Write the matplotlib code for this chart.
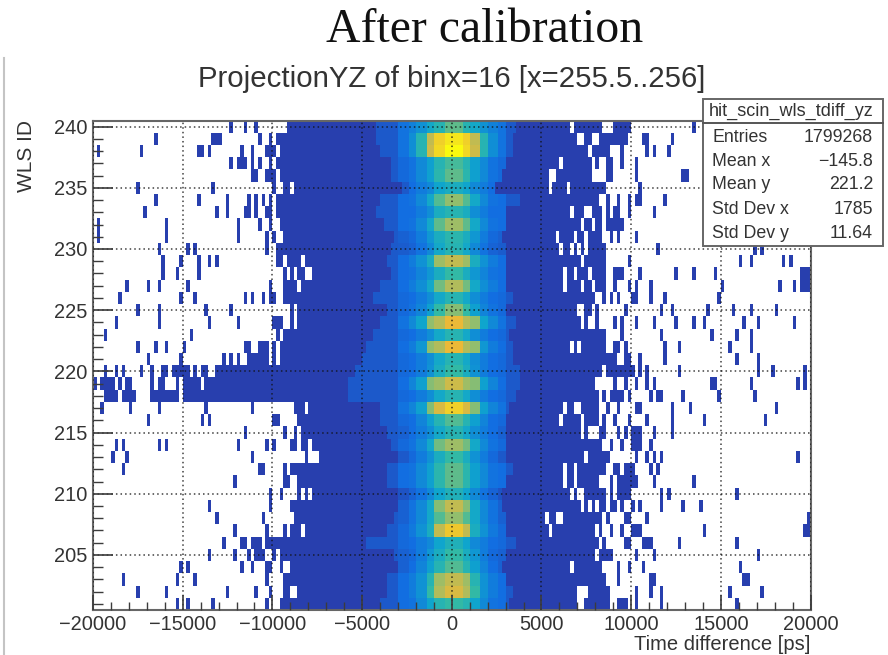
"""ProjectionYZ histogram of WLS ID vs time difference, after calibration."""

import matplotlib

matplotlib.use("Agg")
import matplotlib.pyplot as plt
import numpy as np
from matplotlib.colors import LinearSegmentedColormap
from matplotlib.lines import Line2D
from matplotlib.patches import Rectangle

# wls ids, listed from the top row of the picture downwards
WLS_IDS = list(range(240, 200, -1))
X_TICKS = [-20000, -15000, -10000, -5000, 0, 5000, 10000, 15000, 20000]
Y_TICKS = [205, 210, 215, 220, 225, 230, 235, 240]

# where the solid navy block starts and stops in each row [ps]
DARK_LEFT = [
    -9200, -9790, -9660, -9800, -9200, -8790, -9850, -9850, -9660, -9200,
    -9800, -9760, -9380, -9420, -9420, -8600, -8640, -9480, -9660, -9660,
    -13250, -13810, -15000, -8790, -8640, -8450, -8420, -7430, -9010, -8640,
    -7750, -9010, -8790, -9010, -10400, -9660, -9010, -9200, -8640, -9570,
]
DARK_RIGHT = [
    9960, 9770, 8750, 8990, 8940, 8620, 8190, 9400, 9590, 8470,
    8620, 8620, 8620, 8660, 7910, 6980, 7130, 8660, 8660, 9220,
    10150, 7950, 8190, 8290, 8290, 7170, 8380, 8840, 8660, 8190,
    7080, 7170, 8470, 7910, 8100, 8000, 8380, 8560, 8750, 8750,
]

# where the lighter core starts and stops in each row [ps]
CORE_LEFT = [
    -4210, -4200, -3900, -3470, -3400, -2870, -4000, -4180, -3800, -3200,
    -3340, -3670, -3470, -3900, -4455, -3620, -4030, -4450, -4730, -4920,
    -5385, -5760, -5760, -3990, -3990, -3670, -3430, -2970, -3670, -3670,
    -3020, -2970, -3200, -3670, -4830, -3250, -3060, -3670, -3670, -3900,
]
CORE_RIGHT = [
    3540, 3360, 3360, 2980, 2800, 2330, 3820, 2980, 2980, 2890,
    2930, 2930, 2930, 2980, 3410, 2980, 3540, 3260, 3360, 3450,
    3820, 3820, 3630, 3260, 2980, 2930, 2980, 2980, 3360, 2980,
    2700, 2700, 2980, 2980, 3540, 3080, 2700, 3080, 3360, 3170,
]

# colour level by distance from zero: 0-500, 500-1000, ... 2500-3000 ps
CORE_LEVELS = [
    [0.62, 0.50, 0.42, 0.33, 0.27, 0.22],
    [0.95, 0.90, 0.78, 0.50, 0.32, 0.22],
    [1.00, 0.92, 0.80, 0.50, 0.32, 0.22],
    [0.58, 0.50, 0.38, 0.30, 0.22, 0.18],
    [0.62, 0.52, 0.38, 0.30, 0.22, 0.18],
    [0.45, 0.40, 0.30, 0.25, 0.20, 0.12],
    [0.70, 0.60, 0.42, 0.30, 0.22, 0.20],
    [0.50, 0.45, 0.32, 0.25, 0.20, 0.20],
    [0.72, 0.62, 0.42, 0.30, 0.22, 0.20],
    [0.52, 0.45, 0.35, 0.25, 0.18, 0.15],
    [0.50, 0.42, 0.30, 0.22, 0.16, 0.13],
    [0.78, 0.72, 0.45, 0.33, 0.25, 0.20],
    [0.55, 0.45, 0.35, 0.28, 0.22, 0.20],
    [0.75, 0.65, 0.42, 0.32, 0.25, 0.20],
    [0.50, 0.42, 0.32, 0.25, 0.20, 0.18],
    [0.68, 0.55, 0.38, 0.28, 0.22, 0.18],
    [0.85, 0.76, 0.70, 0.40, 0.30, 0.22],
    [0.50, 0.42, 0.32, 0.25, 0.20, 0.18],
    [0.85, 0.75, 0.70, 0.35, 0.25, 0.20],
    [0.50, 0.42, 0.32, 0.25, 0.20, 0.18],
    [0.55, 0.45, 0.33, 0.25, 0.20, 0.18],
    [0.80, 0.72, 0.68, 0.38, 0.28, 0.20],
    [0.50, 0.42, 0.32, 0.25, 0.20, 0.18],
    [0.90, 0.82, 0.68, 0.38, 0.28, 0.22],
    [0.60, 0.50, 0.38, 0.28, 0.20, 0.18],
    [0.50, 0.42, 0.32, 0.25, 0.20, 0.15],
    [0.72, 0.65, 0.42, 0.30, 0.22, 0.18],
    [0.55, 0.45, 0.33, 0.25, 0.18, 0.12],
    [0.62, 0.52, 0.38, 0.30, 0.22, 0.20],
    [0.62, 0.52, 0.38, 0.30, 0.22, 0.20],
    [0.48, 0.40, 0.30, 0.22, 0.16, 0.10],
    [0.78, 0.68, 0.42, 0.30, 0.22, 0.15],
    [0.70, 0.60, 0.42, 0.30, 0.22, 0.15],
    [0.88, 0.78, 0.45, 0.33, 0.24, 0.18],
    [0.48, 0.40, 0.30, 0.25, 0.20, 0.18],
    [0.55, 0.45, 0.35, 0.25, 0.18, 0.15],
    [0.60, 0.50, 0.38, 0.28, 0.20, 0.15],
    [0.78, 0.72, 0.50, 0.33, 0.25, 0.20],
    [0.82, 0.75, 0.55, 0.33, 0.25, 0.20],
    [0.55, 0.50, 0.40, 0.30, 0.22, 0.20],
]

# isolated filled bins on the negative side [ps]
LEFT_HITS = [
    [-12360, -11520, -10930],
    [-16500, -13400, -13200, -13000, -10700, -10130],
    [-19725, -17345, -14100, -13900, -13530, -11700, -11100, -10300, -10100, -9900],
    [-12360, -11900, -11700, -11500, -11060, -10690, -10130],
    [-11100, -10900, -10300, -10100, -9900, -9570, -9330],
    [-17510, -13350, -9980, -9300, -9100],
    [-16500, -14130, -12550, -11340, -10930, -10500, -10040],
    [-17160, -13140, -12550, -11500, -11300, -10930, -10300, -10100],
    [-19725, -15930, -11930, -10690, -10130],
    [-19725, -15930, -11930, -10350, -9940, -9350],
    [-16320, -14740, -14350, -10350],
    [-16130, -15150, -14130, -13530, -13140],
    [-16130, -15300, -14130],
    [-18160, -16940, -16320, -14740, -10130],
    [-18500, -15150, -14350, -11520, -11100, -10500, -10200, -10000],
    [-17510, -16320, -13720, -12360, -8920],
    [-18720, -16320, -13530, -11930, -9900, -9700, -9500, -8920],
    [-19350, -14540, -9790],
    [-17510, -16500, -15930, -14930, -11500, -11300, -10700, -10500, -10300, -9940],
    [-16940, -15150, -12730, -12360, -11930, -11300, -11100, -10900, -10700, -10500,
     -10300, -9980],
    [-19240, -18680, -18310, -17345, -16640, -16100, -15900, -15500, -15300, -15100,
     -14900, -14700, -14310, -13900, -13700],
    [-19950, -19500, -19300, -19100, -18900, -18500, -18100, -17900, -16730, -16300,
     -16100, -15300, -14900, -14700, -14500, -14300, -14100],
    [-19300, -19100, -18900, -18700, -18300, -18100, -17900, -17700, -16700, -16500,
     -16300, -16100, -15900, -15700, -15500, -15300],
    [-19520, -17940, -16320, -13720, -11100],
    [-16940, -13940, -13530, -9900, -9700],
    [-11520, -9350, -8730],
    [-18720, -18310, -16320, -15930, -11930, -10350, -9940, -8900, -8700],
    [-18940, -18160, -11100, -8120],
    [-18310, -10700, -10500, -9350],
    [-12130, -9300, -9100],
    [-10130, -9570, -8550, -8120],
    [-13530, -10130],
    [-13140, -10500],
    [-12130, -10350, -9350],
    [-12730, -11700, -11500, -11100, -10900, -10700],
    [-13530, -12130, -11340, -10900, -10700, -10500, -9980],
    [-15150, -14740, -11700, -11100, -10300, -10100, -9570],
    [-18310, -15300, -14350, -10350, -9350],
    [-17510, -15930, -12550, -10930, -10130, -9300, -9100],
    [-15300, -14740, -13350, -10350],
]

# isolated filled bins on the positive side [ps]
RIGHT_HITS = [
    [13590],
    [10600, 10800, 12290],
    [9500, 10890, 11300, 12100],
    [9500, 10300],
    [10240, 12900, 13100],
    [10520],
    [8750, 9270, 9870, 10300, 10500, 11860],
    [9870, 11300],
    [],
    [8840, 9310, 10300],
    [11480, 16840, 17270],
    [9870, 16100, 16690, 18420, 18890],
    [9100, 9300, 9500, 10480, 12470, 13490, 14700, 19500, 19700, 19900],
    [9030, 9870, 10240, 11080, 15070, 18290, 19070, 19480, 19700, 19900],
    [8470, 8840, 9310, 10100, 10300, 11080, 11860, 14890],
    [7500, 7700, 8100, 9680, 11630, 12290, 14270, 15690, 16690, 18100],
    [7540, 8100, 9030, 9590, 10300, 11300, 12470, 13490, 14090, 16280, 17060, 19070],
    [9590, 11630, 14520, 15910, 16690],
    [9100, 9300, 9770, 11820, 12650, 15450, 16690],
    [9700, 9900, 10480, 11820, 15870, 17060],
    [10480, 10890, 12650, 17120, 17860, 19630],
    [9030, 9770, 10300, 10890, 11300, 14500, 14700, 16690, 19260, 19670],
    [8560, 8900, 9100, 9300, 9500, 9870, 11080, 11500, 11700, 12880, 14890, 16880],
    [8660, 9220, 10200, 10400, 12290, 13360, 18100],
    [8560, 9160, 9870, 10890, 12290, 14090, 17440],
    [7540, 8200, 8560, 9220, 9680, 10100, 10300, 10500, 11300, 12290],
    [8840, 9590, 10100, 10300, 10500, 11080],
    [10330, 10890, 11300, 11670, 19260],
    [9100, 9300, 9700, 9900, 10100, 11080, 11450],
    [8840, 9300, 9500, 9700, 9900, 10100, 10300, 11300, 13490],
    [7500, 7700, 7900, 8100, 8300, 8500, 8840, 9300, 9500, 9700, 9800, 11630, 12100,
     15870],
    [7450, 7820, 8300, 8500, 8800, 9100, 9500, 10050, 10480, 11630, 12880, 13870],
    [8660, 9680, 9870, 10890, 19900],
    [8250, 8840, 9500, 10000, 10200, 10400, 14090, 19700, 19900],
    [8560, 9700, 9900, 10600, 10800, 11000, 12650, 15870],
    [8300, 8500, 8700, 8900, 10300, 11300, 17120],
    [9270, 9870, 10670, 16100],
    [9270, 11000, 11300, 16200, 16400],
    [10300, 11080, 11670, 15450, 17270],
    [9200, 9400, 9600, 10300, 11630, 15870],
]

# white gaps inside the navy block [ps]
HOLES = [
    [6650, 8500, 8700, 8900],
    [7100, 7300, 7900, 8100],
    [7690],
    [6050, 7820, 8300, 8500],
    [5500, 5700, 7900, 8100, 8300, 8500],
    [5500, 6520],
    [],
    [6650, 7500, 7700, 8470, 8840],
    [7320, 7910, 8470],
    [5830, 6830, 7500],
    [6050, 6700, 7080, 7500],
    [7300, -9300, -8300],
    [6330, 6890, 7730, -9100, -8640, -8200, -8000],
    [6330, 7300, 7860, -8550],
    [],
    [],
    [],
    [],
    [6610, 7080],
    [],
    [8470],
    [],
    [],
    [6300, 6900, 7100, -8120],
    [6050, 7300],
    [],
    [-7900],
    [7450],
    [6330, 6890],
    [6330, 6890],
    [6700],
    [],
    [5310, 5800, 6000],
    [5550, -8360],
    [],
    [],
    [6650],
    [],
    [7000, 7200, 7400],
    [7000, 7200],
]

STAT_NAMES = ["Entries", "Mean x", "Mean y", "Std Dev x", "Std Dev y"]
STAT_VALUES = ["1799268", "\u2212145.8", "221.2", "1785", "11.64"]

BIN_WIDTH = 200
NAVY_LEVEL = 0.02
CORE_BASE_LEVEL = 0.12
BAND_WIDTH = 500

bird = LinearSegmentedColormap.from_list(
    "bird",
    [
        (0.00, "#2a3aa8"),
        (0.20, "#126ee1"),
        (0.40, "#0fa5cd"),
        (0.55, "#32b9a5"),
        (0.70, "#91be6e"),
        (0.85, "#ebb937"),
        (1.00, "#fafa0f"),
    ],
)
bird.set_bad("white")


def build_matrix():
    edges = np.arange(-20000, 20000 + BIN_WIDTH, BIN_WIDTH)
    centers = edges[:-1] + BIN_WIDTH / 2
    z = np.full((len(WLS_IDS), len(centers)), np.nan)
    for i in range(len(WLS_IDS)):
        z[i, (centers >= DARK_LEFT[i]) & (centers <= DARK_RIGHT[i])] = NAVY_LEVEL
        for x in HOLES[i]:
            z[i, (x + 20000) // BIN_WIDTH] = np.nan
        for x in LEFT_HITS[i] + RIGHT_HITS[i]:
            z[i, min((x + 20000) // BIN_WIDTH, len(centers) - 1)] = NAVY_LEVEL
        z[i, (centers >= CORE_LEFT[i]) & (centers <= CORE_RIGHT[i])] = CORE_BASE_LEVEL
        for k, level in enumerate(CORE_LEVELS[i]):
            band = (np.abs(centers - 50) >= k * BAND_WIDTH) & (np.abs(centers - 50) < (k + 1) * BAND_WIDTH)
            band &= (centers >= CORE_LEFT[i]) & (centers <= CORE_RIGHT[i])
            z[i, band] = level
    return edges, np.ma.masked_invalid(z)


W, H = 888, 655
fig = plt.figure(figsize=(W / 100, H / 100), dpi=100)
ax = fig.add_axes([93 / W, 1 - 610 / H, (810.5 - 93) / W, (610 - 120.5) / H])

x_edges, z = build_matrix()
y_edges = np.array(WLS_IDS + [WLS_IDS[-1] - 1]) + 0.5
ax.pcolormesh(x_edges, y_edges, z, cmap=bird, vmin=0, vmax=1, linewidth=0, rasterized=True)

ax.set_xlim(-20000, 20000)
ax.set_ylim(200.5, 240.5)
ax.set_xticks(X_TICKS)
ax.set_yticks(Y_TICKS)
ax.set_xticks(np.arange(-20000, 20001, 1000), minor=True)
ax.set_yticks(WLS_IDS, minor=True)
ax.set_axisbelow(False)
ax.grid(True, which="major", linestyle=(0, (1, 2)), color="#111111", linewidth=1.1, alpha=0.8)

tick_color = "#3c3c3c"
ax.tick_params(axis="x", which="major", direction="in", length=10.5, width=1.2, color=tick_color,
               labelsize=14.4, labelcolor="#333333", pad=3.5)
ax.tick_params(axis="x", which="minor", direction="in", length=5.5, width=1.0, color=tick_color)
ax.tick_params(axis="y", which="major", direction="in", length=14.5, width=1.2, color=tick_color,
               labelsize=14.4, labelcolor="#333333", pad=4)
ax.tick_params(axis="y", which="minor", direction="in", length=7.5, width=1.0, color=tick_color)
for spine in ax.spines.values():
    spine.set_color("#666666")
    spine.set_linewidth(1.5)

sans = ["Liberation Sans", "DejaVu Sans"]
for label in ax.get_xticklabels() + ax.get_yticklabels():
    label.set_family(sans)

fig.text(485 / W, 1 - 42 / H, "After calibration", family="Liberation Serif", fontsize=34.4,
         ha="center", va="baseline", color="#111111")
fig.text(452 / W, 1 - 87 / H, "ProjectionYZ of binx=16 [x=255.5..256]", family=sans, fontsize=21.2,
         ha="center", va="baseline", color="#333333")
fig.text(810 / W, 1 - 650 / H, "Time difference [ps]", family=sans, fontsize=14.5,
         ha="right", va="baseline", color="#333333")
fig.text(27 / W, 1 - 120 / H, "WLS ID", family=sans, fontsize=15, rotation=90,
         ha="center", va="top", color="#333333")

# thin gray line along the left edge of the slide
fig.add_artist(Line2D([3.5 / W, 3.5 / W], [0, 1 - 58 / H], color="#c4c4c4", linewidth=1.5))

# stats box
box_left, box_right, box_top, box_bottom = 703, 883, 99, 246
fig.add_artist(Rectangle((box_left / W, 1 - box_bottom / H), (box_right - box_left) / W, (box_bottom - box_top) / H,
                         facecolor="white", edgecolor="#666666", linewidth=1.4, zorder=5))
fig.add_artist(Line2D([box_left / W, box_right / W], [1 - 123 / H, 1 - 123 / H], color="#555555",
                      linewidth=1.4, zorder=6))
fig.text(791 / W, 1 - 111 / H, "hit_scin_wls_tdiff_yz", family=sans, fontsize=13,
         ha="center", va="center", color="#333333", zorder=7)
stat_rows = [137, 162, 184, 210, 233]
for name, value, row_y in zip(STAT_NAMES, STAT_VALUES, stat_rows):
    fig.text(712 / W, 1 - row_y / H, name, family=sans, fontsize=12.8, ha="left", va="center",
             color="#333333", zorder=7)
    fig.text(873 / W, 1 - row_y / H, value, family=sans, fontsize=12.8, ha="right", va="center",
             color="#333333", zorder=7)

fig.savefig("out.png", dpi=100)
